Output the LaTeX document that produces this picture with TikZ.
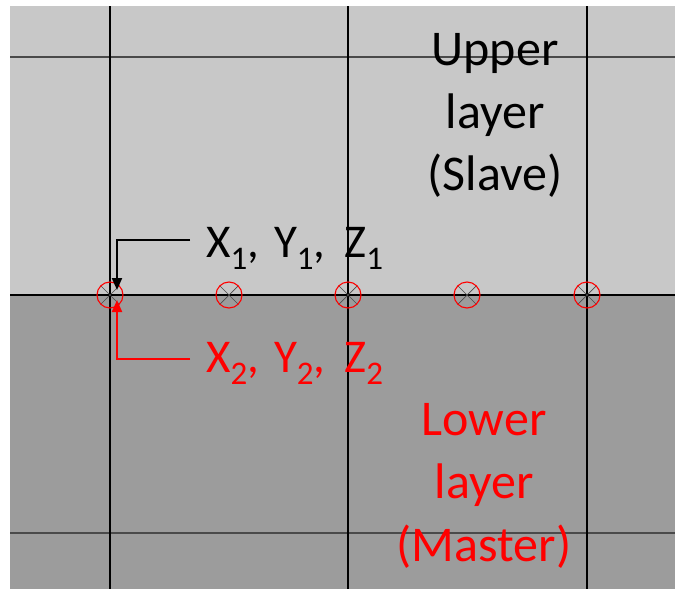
\documentclass[tikz,border=0pt]{standalone}
\usepackage{fontspec}
\setmainfont{Carlito}
\usetikzlibrary{arrows.meta}
\definecolor{upgray}{HTML}{C8C8C8}
\definecolor{lowgray}{HTML}{9C9C9C}
\definecolor{gridgray}{HTML}{4A4A4A}
\newcommand\subn[1]{\raisebox{-0.26em}{\fontsize{33}{34}\selectfont #1}}
\newcommand\coordlabel[1]{X\subn{#1},\hspace{15pt}Y\subn{#1},\hspace{19pt}Z\subn{#1}}
\tikzset{
  bigtext/.style={font=\fontsize{50}{62}\selectfont, inner sep=0pt, anchor=base},
  labtext/.style={font=\fontsize{47}{62}\selectfont, inner sep=0pt, anchor=base west},
  marker/.style={circle, draw=red, line width=1.1pt, minimum size=26pt, inner sep=0pt,
    path picture={\draw[black!70, line width=0.7pt]
      (path picture bounding box.south west) -- (path picture bounding box.north east)
      (path picture bounding box.north west) -- (path picture bounding box.south east);}},
  gridv/.style={black, line width=1.4pt},
  gridh/.style={gridgray, line width=2.2pt},
  pointer/.style={line width=2pt, -{Triangle[length=12pt,width=10pt]}},
}
\begin{document}
\begin{tikzpicture}[x=1pt,y=-1pt]
\useasboundingbox (0,0) rectangle (675,589);
% layers
\fill[upgray] (10,6) rectangle (675,295);
\fill[lowgray] (10,295) rectangle (675,589);
% grid
\draw[gridh] (10,57) -- (675,57);
\draw[gridh] (10,533) -- (675,533);
\draw[black, line width=1.3pt] (10,295) -- (675,295);
\foreach \x in {110,348,587} \draw[gridv] (\x,6) -- (\x,589);
% texts
\node[bigtext] (up1) at (495,65) {Upper};
\node[bigtext] (up2) at (495,128) {layer};
\node[bigtext] (up3) at (495,190) {(Slave)};
\node[bigtext, text=red] (lo1) at (484,435) {Lower};
\node[bigtext, text=red] (lo2) at (484,498) {layer};
\node[bigtext, text=red] (lo3) at (484,561) {(Master)};
% markers
\node[marker] (m1) at (110,295) {};
\node[marker] (m2) at (229,295) {};
\node[marker] (m3) at (348,295) {};
\node[marker] (m4) at (467,295) {};
\node[marker] (m5) at (587,295) {};
% coordinate labels
\node[labtext] (c1) at (206,257) {\coordlabel{1}};
\node[labtext, text=red] (c2) at (206,372) {\coordlabel{2}};
\coordinate (s1) at (190,240);
\coordinate (s2) at (190,359);
\coordinate (e1) at (117,290);
\coordinate (e2) at (117,300);
\draw[pointer, black] (s1) -| (e1);
\draw[pointer, red] (s2) -| (e2);
\end{tikzpicture}
\end{document}
